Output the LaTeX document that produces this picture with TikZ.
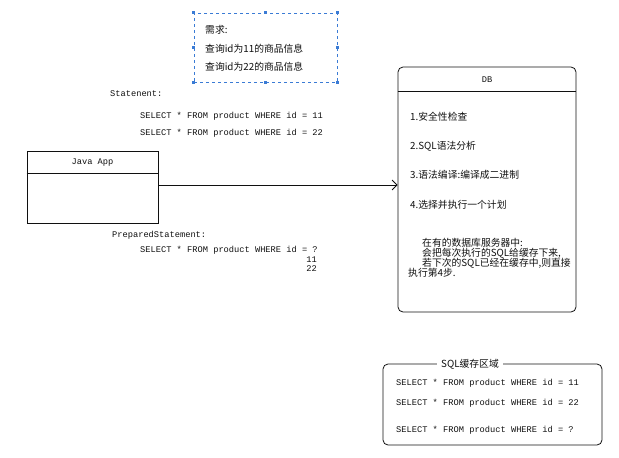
\documentclass[tikz,border=0pt]{standalone}
\usepackage{fontspec}
\setmonofont{Liberation Mono}
\newfontfamily\cjk{Noto Sans CJK SC}
\usetikzlibrary{arrows.meta}
\definecolor{selblue}{HTML}{3A7BD5}
\definecolor{ink}{HTML}{101010}
\tikzset{
  sqltxt/.style={font=\ttfamily\fontsize{8.7}{10}\selectfont, inner sep=0pt, anchor=west, text=ink},
  cjktxt/.style={font=\cjk\fontsize{9.8}{10}\selectfont, inner sep=0pt, anchor=west, text=ink},
  boxline/.style={draw=ink, line width=0.8pt},
  handle/.style={fill=selblue, draw=none, minimum size=2.5pt, inner sep=0pt},
}
\begin{document}
\begin{tikzpicture}[x=1pt,y=-1pt]
\useasboundingbox (0,0) rectangle (619,458);
% requirement box (selected)
\node[draw=selblue, dashed, line width=0.7pt, minimum width=143pt, minimum height=69pt, inner sep=0pt] (req) at (265.5,47.5) {};
\foreach \a in {north west,north,north east,east,south east,south,south west,west}
  \node[handle] at (req.\a) {};
\node[cjktxt] (reqt) at (205,30) {需求:};
\node[cjktxt] (req1) at (205,49) {查询id为11的商品信息};
\node[cjktxt] (req2) at (205,67) {查询id为22的商品信息};
% statement
\node[sqltxt] (st) at (110,94) {Statenent:};
\node[sqltxt] (st1) at (140,116) {SELECT * FROM product WHERE id = 11};
\node[sqltxt] (st2) at (140,133) {SELECT * FROM product WHERE id = 22};
% Java App
\node[boxline, minimum width=131pt, minimum height=72pt, inner sep=0pt] (java) at (92.5,187) {};
\draw[boxline] (java.west |- 0,173) -- (java.east |- 0,173);
\node[sqltxt, anchor=center] (javat) at (92.5,163) {Java App};
% prepared statement
\node[sqltxt] (ps) at (112,235) {PreparedStatement:};
\node[sqltxt] (ps1) at (140,250) {SELECT * FROM product WHERE id = ?};
\node[sqltxt, anchor=east] (ps2) at (317,260) {11};
\node[sqltxt, anchor=east] (ps3) at (317,269) {22};
% DB
\node[boxline, rounded corners=5pt, minimum width=178pt, minimum height=245pt, inner sep=0pt] (db) at (487,189.5) {};
\draw[boxline] (db.west |- 0,91) -- (db.east |- 0,91);
\node[sqltxt, anchor=center] (dbt) at (487,80) {DB};
\node[cjktxt] (d1) at (410,117) {1.安全性检查};
\node[cjktxt] (d2) at (410,146) {2.SQL语法分析};
\node[cjktxt] (d3) at (410,175) {3.语法编译:编译成二进制};
\node[cjktxt] (d4) at (410,205) {4.选择并执行一个计划};
\node[cjktxt] (n1) at (422,243) {在有的数据库服务器中:};
\node[cjktxt] (n2) at (422,253) {会把每次执行的SQL给缓存下来,};
\node[cjktxt] (n3) at (422,263) {若下次的SQL已经在缓存中,则直接};
\node[cjktxt] (n4) at (408,273) {执行第4步.};
% arrow
\draw[ink, line width=0.8pt, -{Straight Barb[length=5pt,width=10pt]}] ([yshift=2pt]java.east) -- ([yshift=2pt]java.east -| db.west);
% SQL cache
\node[boxline, rounded corners=5pt, minimum width=219pt, minimum height=81pt, inner sep=0pt] (cache) at (492.5,404.5) {};
\node[cjktxt, anchor=center, fill=white, inner xsep=4pt, inner ysep=1pt] (cachet) at (470,364) {SQL缓存区域};
\node[sqltxt] (c1) at (396,383) {SELECT * FROM product WHERE id = 11};
\node[sqltxt] (c2) at (396,403) {SELECT * FROM product WHERE id = 22};
\node[sqltxt] (c3) at (396,430) {SELECT * FROM product WHERE id = ?};
\end{tikzpicture}
\end{document}
